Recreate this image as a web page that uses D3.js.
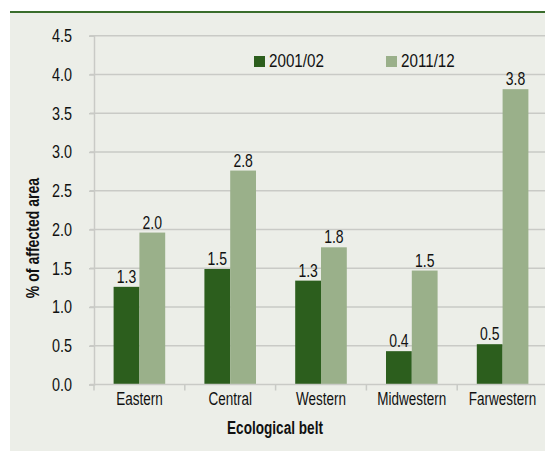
<!DOCTYPE html>
<html>
<head>
<meta charset="utf-8">
<script src="https://cdn.jsdelivr.net/npm/d3@7"></script>
<style>
  body { margin: 0; background: #fff; }
  svg { display: block; }
  text { font-family: "Liberation Sans", Arial, sans-serif; fill: #111; }
</style>
</head>
<body>
<div id="chart"></div>
<script>
// 数据
const belts = ["Eastern", "Central", "Western", "Midwestern", "Farwestern"];
const seriesNames = ["2001/02", "2011/12"];
const values2001 = [1.26, 1.49, 1.34, 0.43, 0.52];
const values2011 = [1.96, 2.76, 1.77, 1.47, 3.81];
const yTicks = [0, 0.5, 1, 1.5, 2, 2.5, 3, 3.5, 4, 4.5];

const colors = {"2001/02": "#2c5e1d", "2011/12": "#9ab08a"};

const W = 545, H = 453;
const plotLeft = 94, plotRight = 548, plotTop = 35.7, plotBottom = 384.5;

const svg = d3.select("#chart").append("svg")
    .attr("width", W)
    .attr("height", H);

// 窄体文字：在位置上做横向缩放
function place(sel, fx, fy, sx, rot) {
    return sel.attr("transform", (d, i) => {
        const px = typeof fx === "function" ? fx(d, i) : fx;
        const py = typeof fy === "function" ? fy(d, i) : fy;
        return `translate(${px},${py})` + (rot ? ` rotate(${rot})` : "") + ` scale(${sx},1)`;
    });
}

// 背景面板
svg.append("rect")
    .attr("x", 10).attr("y", 12)
    .attr("width", W - 10).attr("height", H - 14)
    .attr("fill", "#eceee8");
svg.append("rect")
    .attr("x", 10).attr("y", 11)
    .attr("width", W - 10).attr("height", 2)
    .attr("fill", "#3a6d2c");

// 比例尺
const x = d3.scaleBand().domain(belts).range([plotLeft, plotRight]).padding(0);
const x1 = d3.scaleBand().domain(seriesNames).range([0, x.bandwidth()])
    .paddingInner(0).paddingOuter(0.76);
const y = d3.scaleLinear().domain([0, 4.5]).range([plotBottom, plotTop]);
const fmt = d3.format(".1f");

// 网格线
svg.append("g")
    .selectAll("line")
    .data(yTicks.filter(d => d > 0))
    .join("line")
    .attr("x1", plotLeft - 4).attr("x2", plotRight)
    .attr("y1", d => y(d)).attr("y2", d => y(d))
    .attr("stroke", "#c9cac6")
    .attr("stroke-width", 1.5);

// Y轴
const yAxis = svg.append("g")
    .attr("transform", `translate(${plotLeft},0)`)
    .call(d3.axisLeft(y).tickValues(yTicks).tickFormat("").tickSize(5));
yAxis.select(".domain").attr("stroke", "#c9cac6").attr("stroke-width", 1.5);
yAxis.selectAll(".tick line").attr("stroke", "#c9cac6").attr("stroke-width", 1.5);

place(svg.append("g").selectAll("text")
    .data(yTicks)
    .join("text")
    .attr("text-anchor", "end")
    .style("font-size", "18px")
    .text(d => fmt(d)), 72, d => y(d) + 6.5, 0.8);

// 柱子
const groups = svg.append("g")
    .selectAll("g")
    .data(belts.map((b, i) => ({belt: b, vals: [
        {key: "2001/02", v: values2001[i]},
        {key: "2011/12", v: values2011[i]}
    ]})))
    .join("g")
    .attr("transform", d => `translate(${x(d.belt)},0)`);

groups.selectAll("rect")
    .data(d => d.vals)
    .join("rect")
    .attr("x", d => x1(d.key))
    .attr("y", d => y(d.v))
    .attr("width", x1.bandwidth())
    .attr("height", d => y(0) - y(d.v))
    .attr("fill", d => colors[d.key]);

place(groups.selectAll("text")
    .data(d => d.vals)
    .join("text")
    .attr("text-anchor", "middle")
    .style("font-size", "17.5px")
    .text(d => fmt(d.v)),
    d => x1(d.key) + x1.bandwidth() / 2, d => y(d.v) - 4, 0.8);

// X轴
const xAxis = svg.append("g")
    .attr("transform", `translate(0,${plotBottom})`);
xAxis.append("line")
    .attr("x1", plotLeft - 4).attr("x2", plotRight)
    .attr("stroke", "#c9cac6").attr("stroke-width", 1.5);
xAxis.selectAll(".sep")
    .data(belts)
    .join("line")
    .attr("class", "sep")
    .attr("x1", d => x(d)).attr("x2", d => x(d))
    .attr("y1", 0).attr("y2", 6)
    .attr("stroke", "#c9cac6").attr("stroke-width", 1.5);
place(xAxis.selectAll(".lbl")
    .data(belts)
    .join("text")
    .attr("class", "lbl")
    .attr("text-anchor", "middle")
    .style("font-size", "18.5px")
    .text(d => d), d => x(d) + x.bandwidth() / 2, 20.5, 0.73);

// 轴标题
place(svg.append("text")
    .attr("text-anchor", "middle")
    .style("font-size", "18.5px").style("font-weight", "bold")
    .text("Ecological belt"), 275, 434, 0.735);
place(svg.append("text")
    .attr("text-anchor", "middle")
    .style("font-size", "18.5px").style("font-weight", "bold")
    .text("% of affected area"), 39, 238, 0.76, -90);

// 图例
const legendX = [254, 386];
const legend = svg.append("g")
    .selectAll("g")
    .data(seriesNames)
    .join("g")
    .attr("transform", (d, i) => `translate(${legendX[i]},56)`);
legend.append("rect")
    .attr("width", 11).attr("height", 11)
    .attr("fill", d => colors[d]);
place(legend.append("text")
    .style("font-size", "19px")
    .text(d => d), 15, 10.5, 0.8);
</script>
</body>
</html>
